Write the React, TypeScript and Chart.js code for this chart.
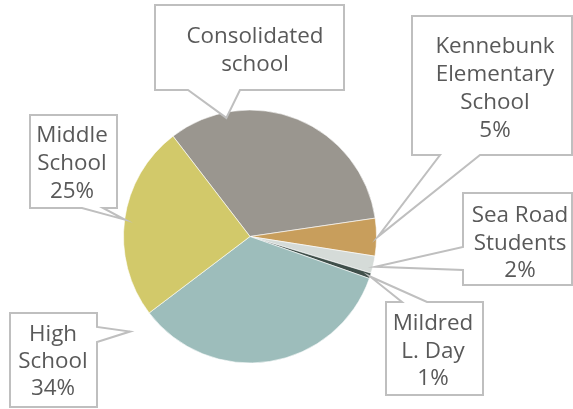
import React, { useEffect, useRef } from "react";
import { Chart, registerables } from "chart.js";

Chart.register(...registerables);

// ---- data ----
const categories = [
  "Consolidated school",
  "Kennebunk Elementary School",
  "Sea Road Students",
  "Mildred L. Day",
  "High School",
  "Middle School",
];
const values = [33.1, 4.8, 2.2, 0.7, 34.3, 24.9];
const labelNames = [
  ["Consolidated", "school"],
  ["Kennebunk", "Elementary", "School"],
  ["Sea Road", "Students"],
  ["Mildred", "L. Day"],
  ["High", "School"],
  ["Middle", "School"],
];
const showPercent = [false, true, true, true, true, true];
const colors = ["#9a968f", "#c89e5c", "#d5dbd8", "#3f4f4a", "#9dbdbb", "#d2c96a"];

// ---- callout layout (positions only) ----
type Callout = {
  x0: number; y0: number; x1: number; y1: number;
  side: "top" | "bottom" | "left" | "right";
  b0: number; b1: number; // base range along side
  f: number; k: number; // tip: fraction of slice angle, fraction of radius
  cx: number; baseY: number; lh: number;
};
const callouts: Callout[] = [
  { x0: 155, y0: 5, x1: 344, y1: 90, side: "bottom", b0: 188, b1: 240, f: 0.22, k: 0.956, cx: 255, baseY: 43, lh: 28 },
  { x0: 412, y0: 16, x1: 572, y1: 155, side: "bottom", b0: 440, b1: 480, f: 0.49, k: 1.01, cx: 495, baseY: 53, lh: 28 },
  { x0: 463, y0: 193, x1: 572, y1: 285, side: "left", b0: 247, b1: 270, f: 0.58, k: 1.02, cx: 520, baseY: 222, lh: 27.5 },
  { x0: 386, y0: 302, x1: 483, y1: 395, side: "top", b0: 402, b1: 427, f: 0.62, k: 1.0, cx: 433, baseY: 330, lh: 27.5 },
  { x0: 10, y0: 313, x1: 97, y1: 407, side: "right", b0: 327, b1: 342, f: 0.99, k: 1.21, cx: 53, baseY: 341, lh: 27 },
  { x0: 30, y0: 115, x1: 117, y1: 208, side: "bottom", b0: 82, b1: 103, f: 0.5, k: 1.0, cx: 72, baseY: 141.5, lh: 28 },
];

const FONT = "22.4px 'Open Sans', sans-serif";
const TEXT_COLOR = "#595959";
const BOX_COLOR = "#bfbfbf";

const calloutPlugin = {
  id: "callouts",
  afterDraw(chart: any) {
    const ctx: CanvasRenderingContext2D = chart.ctx;
    const meta = chart.getDatasetMeta(0);
    const total = values.reduce((a, b) => a + b, 0);
    meta.data.forEach((arc: any, i: number) => {
      const c = callouts[i];
      if (!c) return;
      const p = arc.getProps(["x", "y", "startAngle", "endAngle", "outerRadius"], true);
      const a = p.startAngle + c.f * (p.endAngle - p.startAngle);
      const tx = p.x + p.outerRadius * c.k * Math.cos(a);
      const ty = p.y + p.outerRadius * c.k * Math.sin(a);
      const pts: [number, number][] = [];
      pts.push([c.x0, c.y0]);
      if (c.side === "top") { pts.push([c.b0, c.y0], [tx, ty], [c.b1, c.y0]); }
      pts.push([c.x1, c.y0]);
      if (c.side === "right") { pts.push([c.x1, c.b0], [tx, ty], [c.x1, c.b1]); }
      pts.push([c.x1, c.y1]);
      if (c.side === "bottom") { pts.push([c.b1, c.y1], [tx, ty], [c.b0, c.y1]); }
      pts.push([c.x0, c.y1]);
      if (c.side === "left") { pts.push([c.x0, c.b1], [tx, ty], [c.x0, c.b0]); }
      ctx.save();
      ctx.beginPath();
      pts.forEach(([px, py], j) => (j === 0 ? ctx.moveTo(px, py) : ctx.lineTo(px, py)));
      ctx.closePath();
      ctx.fillStyle = "#ffffff";
      ctx.fill();
      ctx.lineWidth = 2;
      ctx.strokeStyle = BOX_COLOR;
      ctx.lineJoin = "miter";
      ctx.stroke();
      const lines = [...labelNames[i]];
      if (showPercent[i]) lines.push(Math.round((values[i] / total) * 100) + "%");
      ctx.font = FONT;
      ctx.fillStyle = TEXT_COLOR;
      ctx.textAlign = "center";
      ctx.textBaseline = "alphabetic";
      lines.forEach((t, j) => ctx.fillText(t, c.cx, c.baseY + j * c.lh));
      ctx.restore();
    });
  },
};

export default function App() {
  const ref = useRef<HTMLCanvasElement>(null);
  useEffect(() => {
    if (!ref.current) return;
    const chart = new Chart(ref.current, {
      type: "pie",
      data: {
        labels: categories,
        datasets: [
          {
            data: values,
            backgroundColor: colors,
            borderColor: "#ffffff",
            borderWidth: 0.6,
          },
        ],
      },
      options: {
        responsive: false,
        animation: false,
        rotation: 322.5,
        radius: 126.5,
        layout: { padding: { left: 110, right: 183, top: 96, bottom: 32 } },
        plugins: { legend: { display: false }, tooltip: { enabled: false } },
      },
      plugins: [calloutPlugin],
    });
    return () => chart.destroy();
  }, []);
  return (
    <div style={{ position: "fixed", left: 0, top: 0, width: 573, height: 409, background: "#fff" }}>
      <canvas ref={ref} width={573} height={409} />
    </div>
  );
}
